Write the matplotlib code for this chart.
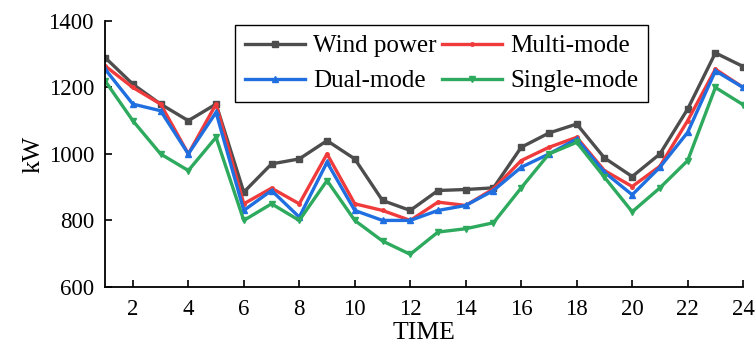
import numpy as np
import matplotlib
matplotlib.use('Agg')
import matplotlib.pyplot as plt

plt.rcParams['font.family'] = ['Liberation Serif', 'DejaVu Serif']

# Dati
hours = list(range(1, 25))
wind_power = [1290, 1210, 1150, 1100, 1150, 885, 970, 985, 1040, 985, 860, 830,
              890, 893, 898, 1020, 1063, 1090, 988, 932, 1000, 1135, 1304, 1263]
multi_mode = [1265, 1200, 1150, 1000, 1150, 850, 897, 850, 1000, 850, 830, 800,
              855, 845, 895, 980, 1020, 1050, 950, 902, 963, 1100, 1255, 1200]
dual_mode = [1255, 1150, 1130, 1000, 1125, 830, 890, 810, 975, 830, 800, 800,
             830, 845, 890, 960, 1000, 1045, 945, 877, 960, 1065, 1250, 1200]
single_mode = [1220, 1100, 1000, 950, 1050, 800, 850, 800, 920, 800, 738, 698,
               765, 775, 793, 898, 1000, 1035, 930, 826, 898, 980, 1200, 1148]

fig = plt.figure(figsize=(7.56, 3.44), dpi=100)
ax = fig.add_axes([0.139, 0.166, 0.844, 0.773])

lw = 2.4
l_wind, = ax.plot(hours, wind_power, color='#4d4d4d', lw=lw, marker='s', ms=4.5, label='Wind power')
l_multi, = ax.plot(hours, multi_mode, color='#ef3b3b', lw=lw, marker='o', ms=2.5, label='Multi-mode')
l_dual, = ax.plot(hours, dual_mode, color='#1f6fe0', lw=lw, marker='^', ms=4.5, label='Dual-mode')
l_single, = ax.plot(hours, single_mode, color='#2eaa5e', lw=lw, marker='v', ms=4.5, label='Single-mode')

ax.set_xlim(1, 24)
ax.set_ylim(600, 1400)
ax.set_xticks(range(2, 25, 2))
ax.set_yticks([600, 800, 1000, 1200, 1400])
ax.tick_params(direction='in', length=5, width=1.2, labelsize=16.5)
ax.tick_params(axis='x', pad=9)
ax.tick_params(axis='y', pad=8)
for s in ['top', 'right']:
    ax.spines[s].set_visible(False)
for s in ['left', 'bottom']:
    ax.spines[s].set_linewidth(1.3)

ax.set_xlabel('TIME', fontsize=18.5, labelpad=1)
ax.set_ylabel('kW', fontsize=18.5, labelpad=3)

# ordine per righe: Wind/Multi sopra, Dual/Single sotto
leg = ax.legend([l_wind, l_dual, l_multi, l_single],
                ['Wind power', 'Dual-mode', 'Multi-mode', 'Single-mode'],
                ncol=2, loc='upper left', bbox_to_anchor=(0.204, 0.985), fontsize=18,
                frameon=True, fancybox=False, edgecolor='black', handlelength=2.4,
                handletextpad=0.3, columnspacing=0.25, labelspacing=0.5,
                borderpad=0.4, borderaxespad=0.0, framealpha=1)
leg.get_frame().set_linewidth(1.0)

fig.savefig('out.png', dpi=100)
